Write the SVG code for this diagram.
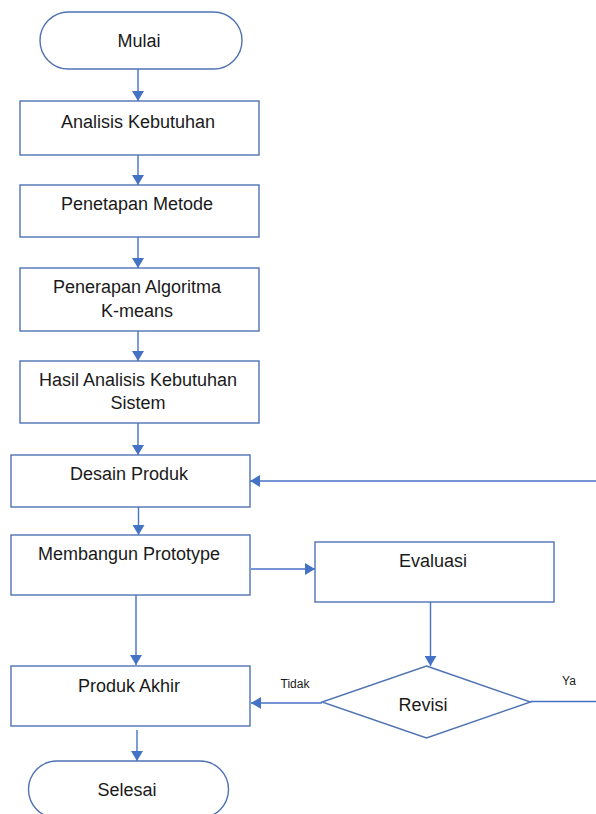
<svg xmlns="http://www.w3.org/2000/svg" width="596" height="814" viewBox="0 0 596 814">
<style>
.shape{fill:#ffffff;stroke:#4f72b3;stroke-width:1.4}
.conn{fill:none;stroke:#4472c4;stroke-width:1.4}
.t{font-family:"Liberation Sans",Arial,sans-serif;font-size:18px;fill:#1a1a1a;text-anchor:middle}
.s{font-family:"Liberation Sans",Arial,sans-serif;font-size:12px;fill:#1a1a1a;text-anchor:middle}
</style>
<defs>
<marker id="arr" markerUnits="userSpaceOnUse" markerWidth="10" markerHeight="12" refX="10" refY="6" orient="auto">
<path d="M0,0 L10,6 L0,12 z" fill="#4472c4"/>
</marker>
</defs>
<rect width="596" height="814" fill="#ffffff"/>
<g id="connectors">
<path class="conn" d="M138,69 V101" marker-end="url(#arr)"/>
<path class="conn" d="M138,155 V185" marker-end="url(#arr)"/>
<path class="conn" d="M138,237 V268" marker-end="url(#arr)"/>
<path class="conn" d="M138,331 V361" marker-end="url(#arr)"/>
<path class="conn" d="M138,423 V455" marker-end="url(#arr)"/>
<path class="conn" d="M138.5,507 V535" marker-end="url(#arr)"/>
<path class="conn" d="M251,569 H315" marker-end="url(#arr)"/>
<path class="conn" d="M136,595 V665" marker-end="url(#arr)"/>
<path class="conn" d="M430.5,602 V666" marker-end="url(#arr)"/>
<path class="conn" d="M322,703 H251" marker-end="url(#arr)"/>
<path class="conn" d="M530.5,701.5 H596"/>
<path class="conn" d="M596,481 H250" marker-end="url(#arr)"/>
<path class="conn" d="M137,730 V761" marker-end="url(#arr)"/>
</g>
<g id="mulai">
<rect class="shape" x="40" y="12" width="202" height="57" rx="28.5" ry="28.5"/>
<text class="t" x="139" y="47">Mulai</text>
</g>
<g id="analisis">
<rect class="shape" x="20" y="101" width="239" height="54"/>
<text class="t" x="138" y="128">Analisis Kebutuhan</text>
</g>
<g id="penetapan">
<rect class="shape" x="20" y="185" width="239" height="52"/>
<text class="t" x="137" y="210">Penetapan Metode</text>
</g>
<g id="penerapan">
<rect class="shape" x="20" y="268" width="239" height="63"/>
<text class="t" x="137" y="293">Penerapan Algoritma</text>
<text class="t" x="137" y="317">K-means</text>
</g>
<g id="hasil">
<rect class="shape" x="20" y="361" width="239" height="62"/>
<text class="t" x="138" y="386">Hasil Analisis Kebutuhan</text>
<text class="t" x="138" y="409">Sistem</text>
</g>
<g id="desain">
<rect class="shape" x="11" y="455" width="239" height="52"/>
<text class="t" x="129" y="480">Desain Produk</text>
</g>
<g id="membangun">
<rect class="shape" x="11" y="535" width="239" height="60"/>
<text class="t" x="129" y="560">Membangun Prototype</text>
</g>
<g id="evaluasi">
<rect class="shape" x="315" y="542" width="239" height="60"/>
<text class="t" x="433" y="567">Evaluasi</text>
</g>
<g id="revisi">
<polygon class="shape" points="426.5,666 530.5,702 426.5,738 322,702"/>
<text class="t" x="423" y="711">Revisi</text>
</g>
<g id="produk-akhir">
<rect class="shape" x="11" y="666" width="239" height="60"/>
<text class="t" x="129" y="692">Produk Akhir</text>
</g>
<g id="selesai">
<rect class="shape" x="28.5" y="761" width="200" height="57" rx="28.5" ry="28.5"/>
<text class="t" x="127" y="796">Selesai</text>
</g>
<g id="labels">
<text class="s" x="295" y="688">Tidak</text>
<text class="s" x="569" y="685">Ya</text>
</g>
</svg>
